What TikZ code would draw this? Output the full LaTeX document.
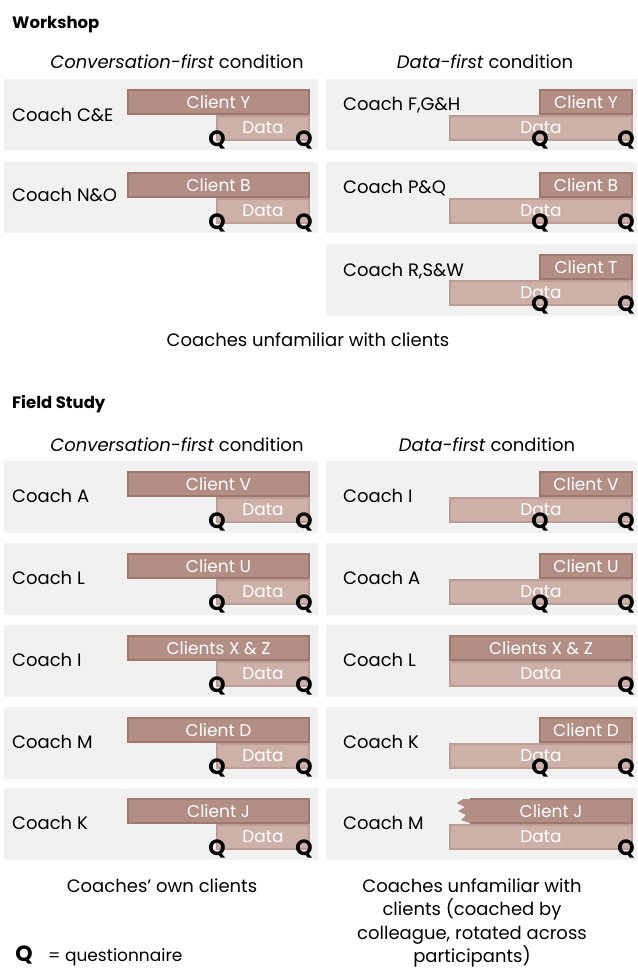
\documentclass[tikz,border=0pt]{standalone}
\usepackage{fontspec}
\setmainfont{Poppins}
\usetikzlibrary{calc}

\definecolor{panelgrey}{RGB}{241,241,241}
\definecolor{clientfill}{RGB}{178,142,133}
\definecolor{clientedge}{RGB}{158,120,111}
\definecolor{datafill}{RGB}{205,177,169}
\definecolor{dataedge}{RGB}{188,156,148}

\begin{document}
\begin{tikzpicture}[x=1pt,y=1pt,yscale=-1,
  panel/.style={fill=panelgrey},
  clientbar/.style={draw=clientedge,fill=clientfill,line width=1.5pt,text=white,anchor=north west,inner sep=0pt,outer sep=0pt,minimum height=24pt,font=\fontsize{17}{17}\selectfont},
  databar/.style={clientbar,draw=dataedge,fill=datafill},
  qmark/.style={inner sep=0pt,font=\fontsize{22}{22}\selectfont\bfseries},
  coachlabel/.style={anchor=west,inner sep=0pt,font=\fontsize{18}{18}\selectfont},
  header/.style={inner sep=0pt,font=\fontsize{18}{23.5}\selectfont},
  sectiontitle/.style={anchor=west,inner sep=0pt,font=\fontsize{16.5}{16.5}\selectfont\bfseries}
]
\useasboundingbox (0,0) rectangle (637,968);

% Text Node
\node[sectiontitle] (wsTitle) at (12,25) {Workshop};
\node[header] (wsHeadL) at (177,62) {\textit{Conversation-first} condition};
\node[header] (wsHeadR) at (485,62) {\textit{Data-first} condition};

%Shape: Rectangle -- workshop, conversation-first
\fill[panel] (4,79) rectangle (318,150);
\fill[panel] (4,162) rectangle (318,233);
%Shape: Rectangle -- workshop, data-first
\fill[panel] (326,79) rectangle (637,150);
\fill[panel] (326,162) rectangle (637,233);
\fill[panel] (326,244) rectangle (637,316);

% Coach C&E
\node[coachlabel] (wsCE) at (12,115) {Coach C\&E};
\node[clientbar,minimum width=181pt] (wsCEc) at (128,90) {Client Y};
\node[databar,minimum width=92pt] (wsCEd) at (217,116) {Data};
\node[qmark] (wsCEq1) at (wsCEd.south west) {Q};
\node[qmark] (wsCEq2) at ([xshift=-5pt]wsCEd.south east) {Q};

% Coach N&O
\node[coachlabel] (wsNO) at (12,195) {Coach N\&O};
\node[clientbar,minimum width=181pt] (wsNOc) at (128,173) {Client B};
\node[databar,minimum width=92pt] (wsNOd) at (217,199) {Data};
\node[qmark] (wsNOq1) at (wsNOd.south west) {Q};
\node[qmark] (wsNOq2) at ([xshift=-5pt]wsNOd.south east) {Q};

% Coach F,G&H
\node[coachlabel] (wsFGH) at (343,105) {Coach F,G\&H};
\node[clientbar,minimum width=92pt] (wsFGHc) at (540,90) {Client Y};
\node[databar,minimum width=182pt] (wsFGHd) at (450,116) {Data};
\node[qmark] (wsFGHq1) at (wsFGHc.south west |- wsFGHd.south) {Q};
\node[qmark] (wsFGHq2) at ([xshift=-6pt]wsFGHd.south east) {Q};

% Coach P&Q
\node[coachlabel] (wsPQ) at (343,188) {Coach P\&Q};
\node[clientbar,minimum width=92pt] (wsPQc) at (540,173) {Client B};
\node[databar,minimum width=182pt] (wsPQd) at (450,199) {Data};
\node[qmark] (wsPQq1) at (wsPQc.south west |- wsPQd.south) {Q};
\node[qmark] (wsPQq2) at ([xshift=-6pt]wsPQd.south east) {Q};

% Coach R,S&W
\node[coachlabel] (wsRSW) at (343,271) {Coach R,S\&W};
\node[clientbar,minimum width=92pt] (wsRSWc) at (540,255) {Client T};
\node[databar,minimum width=182pt] (wsRSWd) at (450,281) {Data};
\node[qmark] (wsRSWq1) at (wsRSWc.south west |- wsRSWd.south) {Q};
\node[qmark] (wsRSWq2) at ([xshift=-6pt]wsRSWd.south east) {Q};

% Text Node
\node[header] (wsNote) at (308,340) {Coaches unfamiliar with clients};

% Text Node
\node[sectiontitle] (fsTitle) at (12,404) {Field Study};
\node[header] (fsHeadL) at (177,445) {\textit{Conversation-first} condition};
\node[header] (fsHeadR) at (487,445) {\textit{Data-first} condition};

%Shape: Rectangle -- field study, conversation-first
\fill[panel] (4,461) rectangle (318,533);
\fill[panel] (4,543) rectangle (318,615);
\fill[panel] (4,625) rectangle (318,697);
\fill[panel] (4,707) rectangle (318,779);
\fill[panel] (4,788) rectangle (318,860);
%Shape: Rectangle -- field study, data-first
\fill[panel] (326,461) rectangle (637,533);
\fill[panel] (326,543) rectangle (637,615);
\fill[panel] (326,625) rectangle (637,697);
\fill[panel] (326,707) rectangle (637,779);
\fill[panel] (326,788) rectangle (637,860);

% Coach A (own client)
\node[coachlabel] (fcA) at (12,496) {Coach A};
\node[clientbar,minimum width=181pt] (fcAc) at (128,472) {Client V};
\node[databar,minimum width=92pt] (fcAd) at (217,498) {Data};
\node[qmark] (fcAq1) at (fcAd.south west) {Q};
\node[qmark] (fcAq2) at ([xshift=-5pt]fcAd.south east) {Q};

% Coach L (own client)
\node[coachlabel] (fcL) at (12,578) {Coach L};
\node[clientbar,minimum width=181pt] (fcLc) at (128,554) {Client U};
\node[databar,minimum width=92pt] (fcLd) at (217,580) {Data};
\node[qmark] (fcLq1) at (fcLd.south west) {Q};
\node[qmark] (fcLq2) at ([xshift=-5pt]fcLd.south east) {Q};

% Coach I (own client)
\node[coachlabel] (fcI) at (12,660) {Coach I};
\node[clientbar,minimum width=181pt] (fcIc) at (128,636) {Clients X \& Z};
\node[databar,minimum width=92pt] (fcId) at (217,662) {Data};
\node[qmark] (fcIq1) at (fcId.south west) {Q};
\node[qmark] (fcIq2) at ([xshift=-5pt]fcId.south east) {Q};

% Coach M (own client)
\node[coachlabel] (fcM) at (12,742) {Coach M};
\node[clientbar,minimum width=181pt] (fcMc) at (128,718) {Client D};
\node[databar,minimum width=92pt] (fcMd) at (217,744) {Data};
\node[qmark] (fcMq1) at (fcMd.south west) {Q};
\node[qmark] (fcMq2) at ([xshift=-5pt]fcMd.south east) {Q};

% Coach K (own client)
\node[coachlabel] (fcK) at (12,823) {Coach K};
\node[clientbar,minimum width=181pt] (fcKc) at (128,799) {Client J};
\node[databar,minimum width=92pt] (fcKd) at (217,825) {Data};
\node[qmark] (fcKq1) at (fcKd.south west) {Q};
\node[qmark] (fcKq2) at ([xshift=-5pt]fcKd.south east) {Q};

% Coach I (unfamiliar client)
\node[coachlabel] (fdI) at (343,496) {Coach I};
\node[clientbar,minimum width=92pt] (fdIc) at (540,472) {Client V};
\node[databar,minimum width=182pt] (fdId) at (450,498) {Data};
\node[qmark] (fdIq1) at (fdIc.south west |- fdId.south) {Q};
\node[qmark] (fdIq2) at ([xshift=-6pt]fdId.south east) {Q};

% Coach A (unfamiliar client)
\node[coachlabel] (fdA) at (343,578) {Coach A};
\node[clientbar,minimum width=92pt] (fdAc) at (540,554) {Client U};
\node[databar,minimum width=182pt] (fdAd) at (450,580) {Data};
\node[qmark] (fdAq1) at (fdAc.south west |- fdAd.south) {Q};
\node[qmark] (fdAq2) at ([xshift=-6pt]fdAd.south east) {Q};

% Coach L (unfamiliar client)
\node[coachlabel] (fdL) at (343,660) {Coach L};
\node[clientbar,minimum width=182pt] (fdLc) at (450,636) {Clients X \& Z};
\node[databar,minimum width=182pt] (fdLd) at (450,662) {Data};
\node[qmark] (fdLq) at ([xshift=-6pt]fdLd.south east) {Q};

% Coach K (unfamiliar client)
\node[coachlabel] (fdK) at (343,742) {Coach K};
\node[clientbar,minimum width=92pt] (fdKc) at (540,718) {Client D};
\node[databar,minimum width=182pt] (fdKd) at (450,744) {Data};
\node[qmark] (fdKq1) at (fdKc.south west |- fdKd.south) {Q};
\node[qmark] (fdKq2) at ([xshift=-6pt]fdKd.south east) {Q};

% Coach M (unfamiliar client) -- torn bar
\node[coachlabel] (fdM) at (343,823) {Coach M};
\fill[clientfill] (470,799) -- (632,799) -- (632,823) -- (470,823) -- (461,820) -- (466,815) -- (458,811) -- (465,807) -- (457,803) -- (463,799) -- cycle;
\draw[clientedge,line width=1.5pt] (470,799) -- (632,799) -- (632,823) -- (470,823);
\node[text=white,inner sep=0pt,font=\fontsize{17}{17}\selectfont] (fdMc) at (551,811) {Client J};
\node[databar,minimum width=182pt] (fdMd) at (450,825) {Data};
\node[qmark] (fdMq) at ([xshift=-6pt]fdMd.south east) {Q};

% Text Node
\node[header] (fsNoteL) at (162,886) {Coaches’ own clients};
\node[header,align=center] (fsNoteR) at (472,923) {Coaches unfamiliar with\\clients (coached by\\colleague, rotated across\\participants)};

% Legend
\node[qmark] (legQ) at (24,955) {Q};
\node[coachlabel,font=\fontsize{17}{17}\selectfont] (legText) at (48,957) {= questionnaire};

\end{tikzpicture}
\end{document}
